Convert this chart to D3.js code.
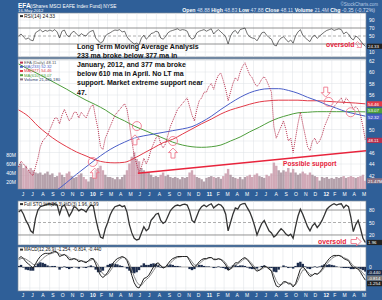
<!DOCTYPE html>
<html>
<head>
<meta charset="utf-8">
<script src="https://cdn.jsdelivr.net/npm/d3@7/dist/d3.min.js"></script>
<style>
  body { margin: 0; background: #2f5f98; }
  svg { display: block; font-family: "Liberation Sans", Arial, sans-serif; }
</style>
</head>
<body>
<svg width="382" height="300"></svg>
<script>
// weekly closes, end of May 2009 .. 16 May 2012
var closes = [
  43.5,
  44.5, 44.0, 43.5, 43.0,
  42.3, 42.0, 43.5, 45.0,
  47.0, 48.0, 48.5, 49.0,
  50.0, 51.0, 52.0, 52.0,
  51.0, 52.5, 53.5, 52.5, 51.5,
  52.0, 53.0, 53.0, 52.0,
  53.0, 52.5, 52.0, 53.0,
  54.0, 54.3, 52.0, 50.0,    // 2010
  47.0, 46.5, 48.5, 49.5,
  50.5, 51.5, 52.5, 53.0,
  53.5, 54.0, 54.5, 53.5,
  51.0, 48.0, 45.5, 44.0,
  42.5, 43.5, 45.0, 44.0,
  45.0, 46.5, 47.5, 48.5,
  49.0, 47.5, 46.8, 47.5,
  49.0, 50.5, 51.5, 52.5,
  53.5, 54.0, 54.5, 55.0,
  55.5, 54.0, 52.5, 51.5,
  53.5, 55.0, 55.5, 56.5,
  56.5, 57.5, 58.0, 57.0,    // 2011
  58.5, 59.5, 59.8, 58.5,
  57.0, 55.0, 56.5, 58.0,
  59.0, 58.5, 60.0, 61.0,
  61.6, 60.5, 59.5, 59.0,
  58.0, 57.5, 58.0, 58.8,
  59.2, 58.5, 57.5, 56.5,
  50.5, 48.5, 49.5, 50.5,
  51.5, 50.0, 48.0, 48.5,
  46.0, 48.5, 51.0, 53.0,
  51.0, 49.0, 47.0, 46.3,
  48.0, 48.5, 47.5, 48.0,
  49.0, 50.5, 51.5, 52.5,    // 2012
  53.5, 54.0, 54.5, 55.0,
  55.5, 54.5, 55.5, 55.0,
  54.5, 53.5, 54.0, 53.5,
  52.5, 50.5, 48.11
];

// volume in millions, same weeks
var volumes = [
  55,
  60, 50, 55, 45,
  50, 45, 40, 38,
  40, 35, 38, 42,
  35, 38, 30, 32,
  40, 35, 30, 38, 42,
  32, 28, 30, 35,
  38, 30, 25, 20,
  30, 28, 45, 50,
  55, 45, 35, 30,
  30, 28, 25, 30,
  25, 30, 35, 45,
  60, 75, 85, 70,
  65, 50, 45, 40,
  40, 35, 30, 32,
  30, 35, 40, 32,
  35, 30, 28, 30,
  28, 25, 30, 28,
  30, 40, 45, 35,
  30, 28, 25, 20,
  28, 30, 32, 30,
  28, 30, 26, 32,
  38, 48, 35, 30,
  28, 26, 30, 25,
  30, 32, 35, 30,
  35, 38, 32, 30,
  28, 35, 32, 38,
  62, 55, 45, 40,
  45, 42, 50, 40,
  48, 40, 35, 38,
  42, 38, 35, 40,
  35, 32, 30, 22,
  30, 28, 30, 26,
  28, 26, 30, 28,
  30, 32, 28, 30,
  32, 30, 28, 30,
  32, 35, 21.47
];

var rsi = [
  50,
  55, 48, 42, 45,
  40, 38, 58, 62,
  66, 60, 64, 62,
  65, 62, 66, 60,
  45, 62, 65, 52, 48,
  58, 62, 55, 50,
  56, 52, 50, 58,
  62, 64, 45, 38,
  33, 36, 50, 55,
  58, 62, 65, 64,
  66, 60, 62, 48,
  40, 35, 30, 32,
  28, 45, 52, 42,
  48, 56, 58, 62,
  60, 45, 42, 48,
  58, 62, 64, 66,
  68, 64, 66, 65,
  62, 48, 42, 45,
  58, 62, 64, 66,
  62, 65, 68, 55,
  62, 66, 60, 55,
  48, 30, 50, 60,
  64, 56, 66, 68,
  70, 55, 48, 45,
  44, 38, 48, 58,
  60, 52, 46, 42,
  28, 25, 38, 45,
  48, 42, 35, 40,
  32, 50, 60, 66,
  52, 46, 40, 36,
  48, 52, 44, 50,
  55, 60, 64, 66,
  68, 64, 66, 68,
  66, 55, 60, 55,
  45, 40, 50, 46,
  38, 30, 24.33
];

// Full STO %K(50,3)
var stoK = [
  75,
  80, 70, 55, 45,
  30, 25, 60, 80,
  88, 90, 92, 94,
  95, 93, 95, 92,
  70, 88, 92, 80, 65,
  75, 88, 85, 78,
  82, 80, 75, 85,
  92, 90, 60, 35,
  15, 12, 35, 50,
  68, 80, 88, 90,
  92, 88, 90, 75,
  45, 25, 12, 8,
  10, 25, 40, 30,
  35, 55, 62, 70,
  72, 55, 48, 52,
  65, 78, 85, 90,
  92, 90, 93, 94,
  92, 78, 55, 50,
  65, 80, 88, 92,
  88, 92, 95, 85,
  90, 94, 92, 85,
  70, 30, 50, 70,
  85, 82, 92, 95,
  96, 85, 75, 60,
  42, 20, 35, 48,
  55, 42, 30, 25,
  15, 20, 28, 35,
  30, 22, 18, 22,
  12, 40, 65, 82,
  70, 55, 40, 30,
  42, 48, 38, 45,
  55, 68, 82, 88,
  92, 95, 92, 94,
  95, 85, 92, 88,
  62, 28, 45, 55,
  35, 12, 1.96
];

// MACD(12,26,9): macd line and signal line
var macdLine = [
  0.8,
  1.0, 0.8, 0.5, 0.3,
  0.1, -0.1, 0.3, 0.7,
  1.0, 1.2, 1.3, 1.3,
  1.3, 1.4, 1.5, 1.4,
  1.0, 1.1, 1.2, 1.0, 0.7,
  0.7, 0.8, 0.7, 0.5,
  0.6, 0.5, 0.4, 0.6,
  0.8, 0.8, 0.3, -0.3,
  -0.8, -1.0, -0.8, -0.5,
  -0.1, 0.3, 0.6, 0.8,
  0.9, 1.0, 0.9, 0.6,
  0.0, -0.8, -1.5, -1.9,
  -2.0, -1.6, -1.1, -1.0,
  -0.8, -0.4, 0.0, 0.3,
  0.4, 0.1, -0.1, 0.0,
  0.3, 0.6, 0.8, 0.9,
  1.0, 1.0, 1.0, 1.0,
  1.0, 0.6, 0.2, 0.0,
  0.2, 0.5, 0.7, 0.8,
  0.8, 0.9, 0.9, 0.7,
  0.7, 0.8, 0.7, 0.5,
  0.2, -0.3, -0.2, 0.1,
  0.4, 0.4, 0.6, 0.8,
  0.9, 0.7, 0.4, 0.1,
  -0.2, -0.4, -0.3, -0.1,
  0.1, 0.0, -0.2, -0.4,
  -1.2, -1.8, -1.9, -1.7,
  -1.4, -1.4, -1.6, -1.6,
  -1.9, -1.6, -0.9, -0.2,
  0.0, -0.2, -0.6, -0.9,
  -0.8, -0.6, -0.7, -0.5,
  -0.2, 0.2, 0.5, 0.8,
  1.0, 1.1, 1.1, 1.1,
  1.0, 0.8, 0.7, 0.6,
  0.2, -0.1, -0.1, -0.2,
  -0.5, -0.9, -1.254
];
var macdSignal = [
  0.7,
  0.8, 0.85, 0.75, 0.6,
  0.45, 0.25, 0.2, 0.35,
  0.55, 0.8, 1.0, 1.15,
  1.25, 1.3, 1.4, 1.4,
  1.25, 1.15, 1.15, 1.1, 0.9,
  0.8, 0.8, 0.75, 0.65,
  0.6, 0.55, 0.5, 0.55,
  0.65, 0.75, 0.55, 0.2,
  -0.3, -0.65, -0.8, -0.7,
  -0.4, -0.05, 0.3, 0.55,
  0.75, 0.9, 0.9, 0.75,
  0.35, -0.25, -0.9, -1.4,
  -1.7, -1.75, -1.45, -1.2,
  -1.0, -0.7, -0.35, 0.0,
  0.2, 0.15, 0.0, 0.0,
  0.1, 0.35, 0.6, 0.8,
  0.9, 0.95, 1.0, 1.0,
  1.0, 0.8, 0.5, 0.2,
  0.15, 0.3, 0.5, 0.7,
  0.75, 0.85, 0.9, 0.8,
  0.75, 0.75, 0.75, 0.6,
  0.4, 0.0, -0.15, -0.05,
  0.2, 0.3, 0.45, 0.65,
  0.8, 0.75, 0.55, 0.3,
  0.0, -0.25, -0.3, -0.2,
  -0.05, 0.0, -0.1, -0.3,
  -0.75, -1.3, -1.65, -1.7,
  -1.55, -1.45, -1.5, -1.55,
  -1.75, -1.7, -1.3, -0.7,
  -0.3, -0.25, -0.45, -0.7,
  -0.75, -0.65, -0.65, -0.55,
  -0.35, -0.05, 0.3, 0.55,
  0.8, 0.95, 1.05, 1.1,
  1.05, 0.9, 0.8, 0.7,
  0.4, 0.1, 0.0, -0.1,
  -0.3, -0.6, -0.814
];

// long moving averages, one value a month
var ma233 = [36.0, 36.8, 37.6, 38.5, 39.5, 40.8, 42.2, 43.5, 44.8, 46.0, 47.0, 47.8, 48.5,
  48.9, 49.2, 49.5, 49.8, 50.1, 50.5, 51.3, 52.3, 53.5, 54.6, 55.6, 56.4, 56.9, 57.1,
  57.1, 56.8, 56.3, 55.6, 55.0, 54.3, 53.7, 53.1, 52.7, 52.32];
var ma377 = [53.4, 52.3, 50.6, 49.2, 48.0, 47.0, 46.1, 45.4, 44.7, 44.3, 44.2, 44.3, 45.0,
  45.9, 46.8, 47.7, 48.3, 49.2, 50.1, 51.0, 51.8, 52.7, 53.4, 53.9, 54.4, 54.8, 55.0,
  55.1, 55.1, 55.1, 55.0, 55.0, 54.9, 54.8, 54.7, 54.6, 54.46];
var ma610 = [61.4, 60.5, 59.7, 58.8, 57.9, 57.0, 56.0, 55.1, 54.3, 53.4, 52.3, 51.5, 50.6,
  49.9, 49.2, 48.5, 47.8, 47.3, 47.0, 46.9, 47.0, 47.3, 48.0, 48.7, 49.6, 50.4, 51.3,
  52.0, 52.5, 52.9, 53.0, 53.1, 53.1, 53.1, 53.1, 53.1, 53.07];

var priceTicks = [42, 44, 46, 48, 50, 52, 54, 56, 58, 60, 62];
var rsiTicks = [10, 30, 50, 70, 90];
var volTicks = [20, 40, 60, 80];
var stoTicks = [20, 50, 80];
var macdTicks = [-2, 0];

var noteLines = [
  "Long Term Moving Average Analysis",
  "233 ma broke below 377 ma in",
  "January, 2012, and 377 ma broke",
  "below 610 ma in April.  No LT ma",
  "support.  Market extreme support near",
  "47."
];

var svg = d3.select("svg");
var L = 18, R = 366;
var bg = "#2f5f98";
var pink = "#ee6a80", red = "#e8243c";
var cBlue = "#4a5ec8", cRed = "#e23a48", cGreen = "#4e9e3c";

var first = new Date(2009, 4, 27), last = new Date(2012, 4, 16);
var dates = d3.range(closes.length).map(function(i) {
  return new Date(+first + i * (last - first) / (closes.length - 1));
});
var maDates = d3.range(ma233.length).map(function(i) {
  return new Date(+first + i * (last - first) / (ma233.length - 1));
});
var months = d3.timeMonth.range(new Date(2009, 5, 1), new Date(2012, 5, 1));

var x = d3.scaleTime().domain([new Date(2009, 4, 25), new Date(2012, 4, 18)]).range([L, R]);

var panels = {rsi: [13, 57], price: [59, 189], sto: [201, 245], macd: [247, 291]};
var yR = d3.scaleLinear().domain([0, 100]).range([56, 16]);
var yP = d3.scaleLinear().domain([40, 62]).range([187, 60.5]);
var yV = d3.scaleLinear().domain([0, 80]).range([190.5, 154.5]);
var yS = d3.scaleLinear().domain([0, 100]).range([243.3, 201.7]);
var yM = d3.scaleLinear().domain([-2, 0]).range([288, 267]);

svg.append("rect").attr("width", 382).attr("height", 300).attr("fill", bg);

// panels, clips, month grid
Object.keys(panels).forEach(function(k) {
  var p = panels[k];
  svg.append("rect").attr("x", L).attr("y", p[0]).attr("width", R - L).attr("height", p[1] - p[0])
    .attr("fill", "#fff").attr("stroke", "#7d8a99").attr("stroke-width", 0.7);
  svg.append("clipPath").attr("id", "clip-" + k).append("rect")
    .attr("x", L).attr("y", p[0]).attr("width", R - L).attr("height", p[1] - p[0]);
  svg.append("g").selectAll("line").data(months).join("line")
    .attr("x1", function(d) { return x(d); }).attr("x2", function(d) { return x(d); })
    .attr("y1", p[0]).attr("y2", p[1])
    .attr("stroke", "#dde0e4").attr("stroke-width", 0.5);
});

function hgrid(ticks, y, special) {
  svg.append("g").selectAll("line").data(ticks).join("line")
    .attr("x1", L).attr("x2", R)
    .attr("y1", function(d) { return y(d); }).attr("y2", function(d) { return y(d); })
    .attr("stroke", function(d) { return special && special[d] ? special[d][0] : "#dde0e4"; })
    .attr("stroke-width", function(d) { return special && special[d] ? 0.8 : 0.5; })
    .attr("stroke-dasharray", function(d) { return special && special[d] ? special[d][1] : null; });
}
hgrid(rsiTicks, yR, {30: ["#777", null], 70: ["#777", null], 50: ["#999", "3,2"]});
hgrid(priceTicks, yP);
hgrid(stoTicks, yS, {20: ["#777", null], 80: ["#777", null], 50: ["#999", "3,2"]});
hgrid(macdTicks, yM, {0: ["#999", null]});

// separator between RSI and price
svg.append("line").attr("x1", L).attr("x2", R).attr("y1", 58).attr("y2", 58)
  .attr("stroke", "#9aa3ad").attr("stroke-width", 1);

// RSI
svg.append("path").datum(rsi).attr("clip-path", "url(#clip-rsi)")
  .attr("fill", "none").attr("stroke", "#333").attr("stroke-width", 0.7)
  .attr("d", d3.line().x(function(d, i) { return x(dates[i]); }).y(function(d) { return yR(d); }));

// volume
var step = x(dates[1]) - x(dates[0]);
svg.append("g").attr("clip-path", "url(#clip-price)").selectAll("rect").data(volumes).join("rect")
  .attr("x", function(d, i) { return x(dates[i]) - step / 2; })
  .attr("width", step)
  .attr("y", function(d) { return yV(d); })
  .attr("height", function(d) { return yV(0) - yV(d); })
  .attr("fill", function(d, i) { return i > 0 && closes[i] < closes[i - 1] ? "#c99aaa" : "#a8909c"; })
  .attr("opacity", 0.85);

// moving averages
var maLine = d3.line().curve(d3.curveMonotoneX)
  .x(function(d, i) { return x(maDates[i]); }).y(function(d) { return yP(d); });
[[ma610, cGreen], [ma377, cRed], [ma233, cBlue]].forEach(function(m) {
  svg.append("path").datum(m[0]).attr("clip-path", "url(#clip-price)")
    .attr("fill", "none").attr("stroke", m[1]).attr("stroke-width", 1).attr("d", maLine);
});

// price
svg.append("path").datum(closes).attr("clip-path", "url(#clip-price)")
  .attr("fill", "none").attr("stroke", "#b8304e").attr("stroke-width", 1)
  .attr("stroke-dasharray", "1,1")
  .attr("d", d3.line().x(function(d, i) { return x(dates[i]); }).y(function(d) { return yP(d); }));

// STO
svg.append("path").datum(stoK).attr("clip-path", "url(#clip-sto)")
  .attr("fill", "none").attr("stroke", "#333").attr("stroke-width", 1.3)
  .attr("d", d3.line().x(function(d, i) { return x(dates[i]); }).y(function(d) { return yS(d); }));

// MACD
svg.append("g").attr("clip-path", "url(#clip-macd)").selectAll("rect").data(macdLine).join("rect")
  .attr("x", function(d, i) { return x(dates[i]) - step / 2; })
  .attr("width", step)
  .attr("y", function(d, i) { return Math.min(yM(d - macdSignal[i]), yM(0)); })
  .attr("height", function(d, i) { return Math.abs(yM(d - macdSignal[i]) - yM(0)); })
  .attr("fill", "#1c2c4c");
svg.append("path").datum(macdSignal).attr("clip-path", "url(#clip-macd)")
  .attr("fill", "none").attr("stroke", "#8a8a8a").attr("stroke-width", 1)
  .attr("d", d3.line().x(function(d, i) { return x(dates[i]); }).y(function(d) { return yM(d); }));
svg.append("path").datum(macdLine).attr("clip-path", "url(#clip-macd)")
  .attr("fill", "none").attr("stroke", "#222").attr("stroke-width", 1)
  .attr("d", d3.line().x(function(d, i) { return x(dates[i]); }).y(function(d) { return yM(d); }));

// value boxes on the right axis (current readings)
var boxes = [
  [yR(rsi[rsi.length - 1]), "24.33", "#222"],
  [yP(ma377[ma377.length - 1]), "54.46", cRed],
  [yP(ma610[ma610.length - 1]) - 1.2, "53.07", cGreen],
  [yP(ma233[ma233.length - 1]) + 1, "52.32", cBlue],
  [yP(closes[closes.length - 1]), "48.11", "#b8304e"],
  [yV(volumes[volumes.length - 1]), "21.47M", "#8a7080"],
  [yS(stoK[stoK.length - 1]), "1.96", "#222"],
  [yM(-0.44) + 1, "-0.440", "#1c2c4c"],
  [yM(-0.44) + 6.5, "-0.814", "#777"],
  [yM(-0.44) + 12, "-1.254", "#222"]
];
function clearOfBoxes(y) {
  return function(t) { return boxes.every(function(b) { return Math.abs(y(t) - b[0]) > 4.5; }); };
}

// axes
function styleAxis(g) {
  g.select(".domain").remove();
  g.selectAll("text").attr("fill", "#fff").style("font-size", "5px");
}
function monthFmt(d) {
  return d.getMonth() === 0 ? d3.timeFormat("%y")(d) : d3.timeFormat("%b")(d).charAt(0);
}
[192, 293].forEach(function(ty) {
  svg.append("g").attr("transform", "translate(0," + ty + ")")
    .call(d3.axisBottom(x).tickValues(months).tickFormat(monthFmt).tickSize(0).tickPadding(0))
    .call(styleAxis)
    .call(function(g) {
      g.selectAll("text").attr("text-anchor", "start").attr("dx", "1")
        .style("font-weight", function(d) { return d.getMonth() === 0 ? "bold" : null; });
    });
});
function rightAxis(y, ticks) {
  svg.append("g").attr("transform", "translate(" + R + ",0)")
    .call(d3.axisRight(y).tickValues(ticks.filter(clearOfBoxes(y))).tickFormat(d3.format("d"))
      .tickSize(0).tickPadding(3))
    .call(styleAxis);
}
rightAxis(yR, rsiTicks);
rightAxis(yP, priceTicks);
rightAxis(yS, stoTicks);
rightAxis(yM, macdTicks);
svg.append("g").attr("transform", "translate(" + L + ",0)")
  .call(d3.axisLeft(yV).tickValues(volTicks).tickFormat(function(d) { return d + "M"; }).tickSize(0).tickPadding(2))
  .call(styleAxis);

boxes.forEach(function(b) {
  svg.append("rect").attr("x", R + 1).attr("y", b[0] - 2.6).attr("width", 15).attr("height", 5.2).attr("fill", b[2]);
  svg.append("text").attr("x", R + 2).attr("y", b[0] + 1.7).attr("fill", "#fff")
    .style("font-size", "4.4px").text(b[1]);
});

// header
var head = svg.append("g").attr("fill", "#fff");
head.append("text").attr("x", 18).attr("y", 7.5).style("font-size", "6.5px").style("font-weight", "bold").text("EFA");
head.append("text").attr("x", 30).attr("y", 7.5).style("font-size", "4.8px").text("(iShares MSCI EAFE Index Fund) NYSE");
head.append("text").attr("x", 18).attr("y", 12).style("font-size", "4.3px").text("16-May-2012");
head.append("text").attr("x", 378).attr("y", 5.5).attr("text-anchor", "end").attr("fill", "#b8cbe4")
  .style("font-size", "4.5px").text("©StockCharts.com");
var quote = head.append("text").attr("x", 375).attr("y", 12).attr("text-anchor", "end").style("font-size", "5.2px");
[["Open", "48.88"], ["High", "48.83"], ["Low", "47.88"], ["Close", "48.11"], ["Volume", "21.4M"], ["Chg", "-0.35 (-0.72%)"]]
  .forEach(function(q, i) {
    quote.append("tspan").style("font-weight", "bold").text((i ? "  " : "") + q[0] + " ");
    quote.append("tspan").attr("fill", "#d4dff0").text(q[1]);
  });

// panel legends
function legend(x0, y0, rows) {
  rows.forEach(function(r, i) {
    var yy = y0 + i * 4.2;
    svg.append("rect").attr("x", x0).attr("y", yy - 2.4).attr("width", 3).attr("height", 2).attr("fill", r[1]);
    svg.append("text").attr("x", x0 + 4).attr("y", yy).attr("fill", r[2] || r[1])
      .style("font-size", r[3] || "4.2px").text(r[0]);
  });
}
legend(20, 17.5, [["RSI(14) 24.33", "#333", "#111", "5px"]]);
legend(20, 64, [["EFA (Daily) 48.11", "#b8304e", "#555"], ["MA(233) 52.32", cBlue], ["MA(377) 54.46", cRed],
  ["MA(610) 53.07", cGreen], ["Volume 21,465,180", "#8a7080", "#2a3a6a"]]);
legend(20, 205.5, [["Full STO %K(50,3) %D(3) 1.96, 0.99", "#333", "#111", "4.6px"]]);
legend(20, 251, [["MACD(12,26,9) -1.254, -0.814, -0.440", "#333", "#111", "4.6px"]]);

// analyst note
svg.append("g").selectAll("text").data(noteLines).join("text")
  .attr("x", 77).attr("y", function(d, i) { return 49 + i * 9.1; })
  .attr("fill", "#111").style("font-size", "7px").style("font-weight", "bold").text(function(d) { return d; });

// hand drawn marks
var support = [[new Date(2010, 5, 4), 42.4], [new Date(2012, 4, 18), 46.3]];
svg.append("line").attr("clip-path", "url(#clip-price)")
  .attr("x1", x(support[0][0])).attr("y1", yP(support[0][1]))
  .attr("x2", x(support[1][0])).attr("y2", yP(support[1][1]))
  .attr("stroke", red).attr("stroke-width", 1.6);
svg.append("text").attr("x", 283).attr("y", 166).attr("fill", red)
  .style("font-size", "6.6px").style("font-weight", "bold").text("Possible support");

var circles = [[new Date(2010, 0, 14), 44.35], [new Date(2010, 5, 1), 50.6], [new Date(2010, 8, 22), 48.0],
  [new Date(2012, 0, 22), 54.8], [new Date(2012, 2, 31), 53.0]];
svg.append("g").selectAll("circle").data(circles).join("circle")
  .attr("cx", function(d) { return x(d[0]); }).attr("cy", function(d) { return yP(d[1]); })
  .attr("r", 4.5).attr("fill", "none").attr("stroke", pink).attr("stroke-width", 0.8);

var arrows = [[new Date(2010, 0, 20), 42.4, 1], [new Date(2010, 4, 26), 48.2, 1],
  [new Date(2010, 8, 22), 45.9, 1], [new Date(2012, 0, 13), 56.5, -1]];
var arrowShape = "M0,-5 L4.5,-0.5 L2,-0.5 L2,5 L-2,5 L-2,-0.5 L-4.5,-0.5 Z";
svg.append("g").selectAll("path").data(arrows).join("path")
  .attr("transform", function(d) { return "translate(" + x(d[0]) + "," + yP(d[1]) + ") scale(1," + d[2] + ")"; })
  .attr("d", arrowShape).attr("fill", "#fff").attr("fill-opacity", 0.3)
  .attr("stroke", pink).attr("stroke-width", 0.8);

svg.append("text").attr("x", 326).attr("y", 46.5).attr("fill", red)
  .style("font-size", "6.8px").style("font-weight", "bold").text("oversold");
svg.append("text").attr("x", 318).attr("y", 243.5).attr("fill", red)
  .style("font-size", "6.8px").style("font-weight", "bold").text("oversold");
svg.append("path").attr("transform", "translate(356,241.5) rotate(90)")
  .attr("d", arrowShape).attr("fill", "none").attr("stroke", pink).attr("stroke-width", 0.8);
svg.append("path").attr("transform", "translate(359,45) rotate(135) scale(0.7)")
  .attr("d", arrowShape).attr("fill", "none").attr("stroke", pink).attr("stroke-width", 0.9);
</script>
</body>
</html>
